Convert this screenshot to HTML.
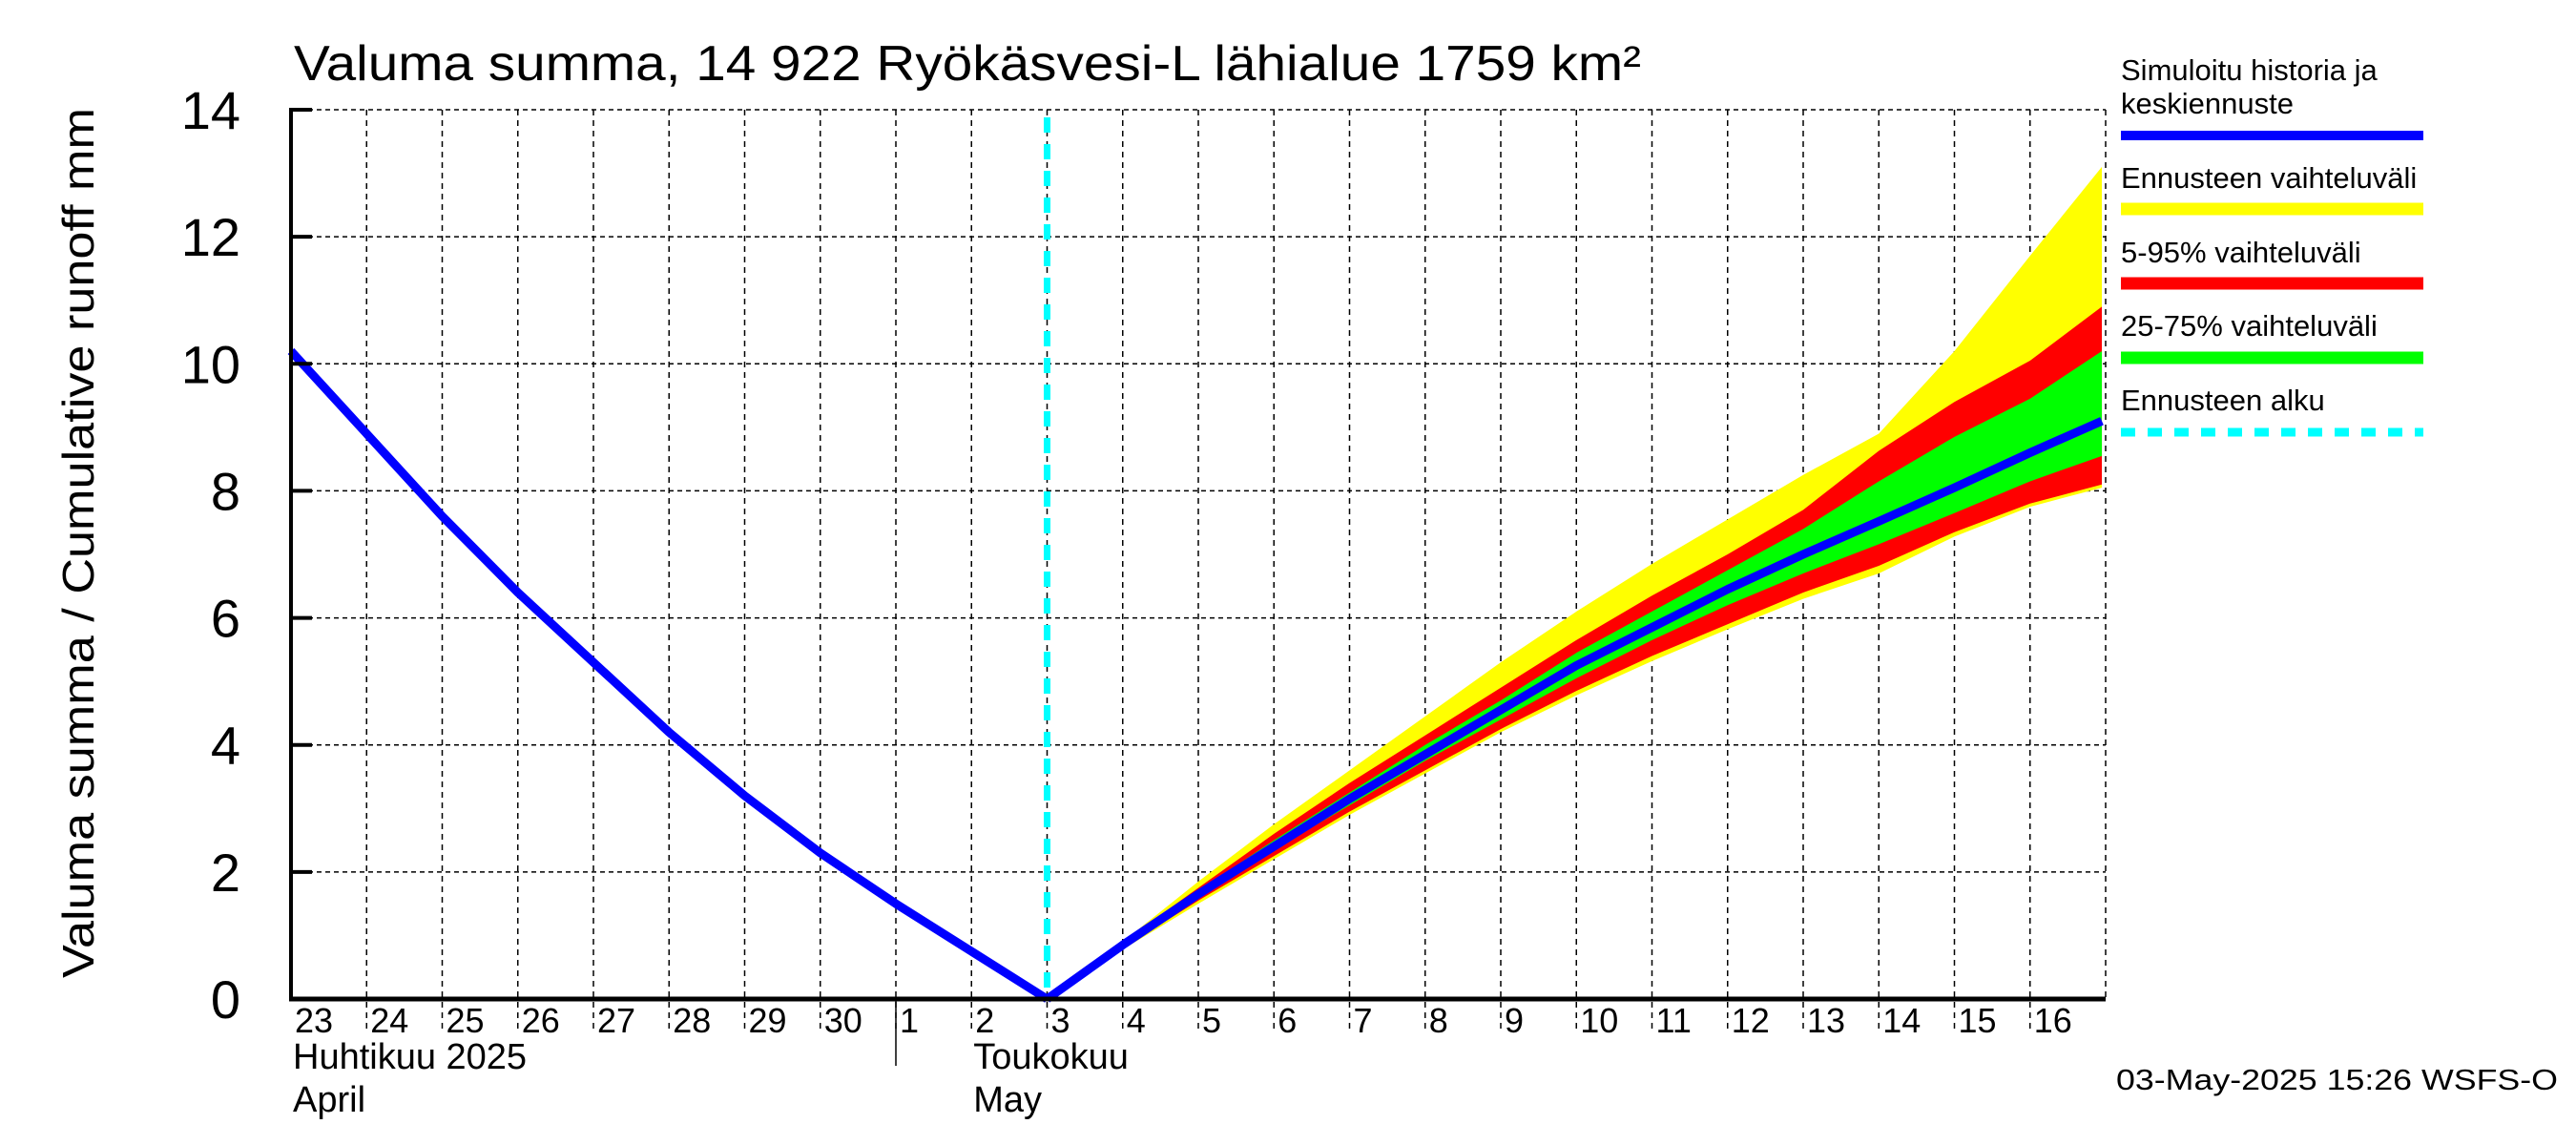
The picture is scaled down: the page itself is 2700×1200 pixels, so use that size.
<!DOCTYPE html>
<html><head><meta charset="utf-8"><style>
html,body{margin:0;padding:0;background:#fff;}
svg{display:block;font-family:"Liberation Sans",sans-serif;}
</style></head><body>
<svg id="chart" width="2700" height="1200" viewBox="0 0 2700 1200" xmlns="http://www.w3.org/2000/svg">
<rect width="2700" height="1200" fill="#fff"/>
<text x="308" y="84" font-size="52" textLength="1412" lengthAdjust="spacingAndGlyphs">Valuma summa, 14 922 Ryökäsvesi-L lähialue 1759 km²</text>
<text transform="translate(98,1025) rotate(-90)" font-size="46" textLength="912" lengthAdjust="spacingAndGlyphs">Valuma summa / Cumulative runoff    mm</text>
<g id="grid"></g>
<g id="bands"></g>
<g id="lines"></g>
<g id="axes"></g>
<g font-size="31">
  <text x="2223" y="84">Simuloitu historia ja</text>
  <text x="2223" y="119">keskiennuste</text>
  <line x1="2223" x2="2540" y1="142" y2="142" stroke="#0000ff" stroke-width="10"/>
  <text x="2223" y="197">Ennusteen vaihteluväli</text>
  <line x1="2223" x2="2540" y1="219" y2="219" stroke="#ffff00" stroke-width="13"/>
  <text x="2223" y="275">5-95% vaihteluväli</text>
  <line x1="2223" x2="2540" y1="297" y2="297" stroke="#ff0000" stroke-width="13"/>
  <text x="2223" y="352">25-75% vaihteluväli</text>
  <line x1="2223" x2="2540" y1="375" y2="375" stroke="#00ff00" stroke-width="13"/>
  <text x="2223" y="430">Ennusteen alku</text>
  <line x1="2223" x2="2540" y1="453" y2="453" stroke="#00ffff" stroke-width="9" stroke-dasharray="15,13"/>
</g>
<text x="2218" y="1142" font-size="31" textLength="463" lengthAdjust="spacingAndGlyphs">03-May-2025 15:26 WSFS-O</text>
</svg>
<script>
const dayLabels=["23","24","25","26","27","28","29","30","1","2","3","4","5","6","7","8","9","10","11","12","13","14","15","16"];
const yTicks=[0,2,4,6,8,10,12,14];
const histX=[0,1,2,3,4,5,6,7,8,9,10];
const histY=[10.2,8.9,7.6,6.4,5.3,4.2,3.2,2.3,1.5,0.75,0];
const fcX=[10,11,12,13,14,15,16,17,18,19,20,21,22,23,23.95];
const median=[0,0.85,1.65,2.4,3.15,3.85,4.55,5.25,5.85,6.45,7.0,7.52,8.05,8.6,9.1];
const maxV=[0,0.9,1.85,2.75,3.6,4.45,5.3,6.1,6.85,7.55,8.25,8.9,10.2,11.7,13.1];
const p95=[0,0.9,1.75,2.6,3.4,4.15,4.9,5.65,6.35,7.0,7.7,8.63,9.4,10.05,10.9];
const p75=[0,0.87,1.7,2.5,3.25,4.0,4.7,5.45,6.1,6.75,7.4,8.15,8.85,9.45,10.2];
const p25=[0,0.83,1.6,2.35,3.05,3.75,4.4,5.05,5.65,6.2,6.7,7.16,7.65,8.15,8.55];
const p5=[0,0.8,1.55,2.25,2.95,3.6,4.25,4.85,5.4,5.9,6.4,6.82,7.35,7.8,8.1];
const minV=[0,0.78,1.5,2.2,2.9,3.55,4.2,4.78,5.32,5.82,6.3,6.7,7.28,7.75,8.05];
const forecastStart=10;

const L=305,R=2207,T=115,B=1047,xMax=24,yMax=14;
const X=d=>L+(R-L)*d/xMax;
const Y=v=>B-(B-T)*v/yMax;
const NS="http://www.w3.org/2000/svg";
function mk(tag,attrs,parent){const e=document.createElementNS(NS,tag);for(const k in attrs)e.setAttribute(k,attrs[k]);parent.appendChild(e);return e;}
const grid=document.getElementById('grid'),bands=document.getElementById('bands'),lines=document.getElementById('lines'),axes=document.getElementById('axes');

yTicks.forEach(v=>{
  const g=mk('line',{x1:L,x2:R,y1:Y(v),y2:Y(v),stroke:'#000','stroke-width':1.5,'stroke-dasharray':'5,4'},grid);
  
  
  const t=mk('line',{x1:L,x2:L+22,y1:Y(v),y2:Y(v),stroke:'#000','stroke-width':4},axes);
  
  
  const lb=mk('text',{x:252,y:Y(v)+20,'font-size':56,'text-anchor':'end'},axes);
  lb.textContent=v;
  
  
});
dayLabels.forEach((d,i)=>{
  if(i>0){
    const g=mk('line',{x1:X(i),x2:X(i),y1:T,y2:B+35,stroke:'#000','stroke-width':1.5,'stroke-dasharray':'6,5'},grid);
    
    
  }
  const lb=mk('text',{x:X(i)+4,y:1082,'font-size':36},axes);
  lb.textContent=d;
  
  
});
const rg=mk('line',{x1:R,x2:R,y1:T,y2:B,stroke:'#000','stroke-width':1.5,'stroke-dasharray':'6,5'},grid);



function band(lo,hi,color,name){
  let pts=fcX.map((x,i)=>X(x)+','+Y(hi[i]));
  pts=pts.concat(fcX.map((x,i)=>X(x)+','+Y(lo[i])).reverse());
  const p=mk('polygon',{points:pts.join(' '),fill:color},bands);
  
  
}
band(minV,maxV,'#ffff00','band-min-max');
band(p5,p95,'#ff0000','band-5-95');
band(p25,p75,'#00ff00','band-25-75');

const cy=mk('line',{x1:X(forecastStart),x2:X(forecastStart),y1:T+8,y2:B,stroke:'#00ffff','stroke-width':7,'stroke-dasharray':'16,12'},lines);


const hp=mk('polyline',{points:histX.map((x,i)=>X(x)+','+Y(histY[i])).join(' '),fill:'none',stroke:'#0000ff','stroke-width':9,'stroke-linejoin':'round'},lines);


const mp=mk('polyline',{points:fcX.map((x,i)=>X(x)+','+Y(median[i])).join(' '),fill:'none',stroke:'#0000ff','stroke-width':9,'stroke-linejoin':'round'},lines);



const ya=mk('line',{x1:L,x2:L,y1:T-2,y2:B+2,stroke:'#000','stroke-width':4},axes);


const xa=mk('line',{x1:L-2,x2:R,y1:B,y2:B,stroke:'#000','stroke-width':5},axes);


const ms=mk('line',{x1:X(8),x2:X(8),y1:B,y2:1117,stroke:'#000','stroke-width':1.5},axes);


[["Huhtikuu  2025",X(0)+2,1120,'month-april-fi'],["April",X(0)+2,1165,'month-april-en'],["Toukokuu",X(9)+2,1120,'month-may-fi'],["May",X(9)+2,1165,'month-may-en']].forEach(m=>{
  const t=mk('text',{x:m[1],y:m[2],'font-size':38,'xml:space':'preserve'},axes);
  t.textContent=m[0];
  
  
});
</script>
</body></html>
